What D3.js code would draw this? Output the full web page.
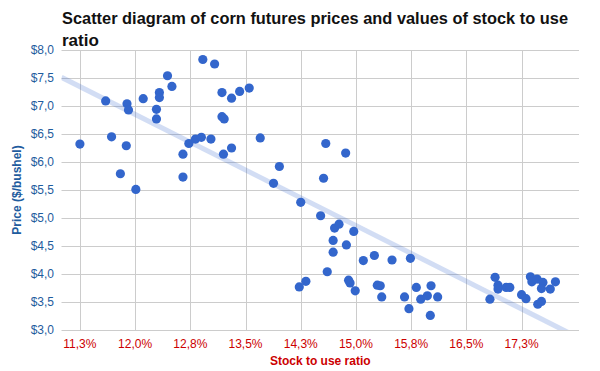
<!DOCTYPE html>
<html>
<head>
<meta charset="utf-8">
<script src="https://cdn.jsdelivr.net/npm/d3@7"></script>
<style>
  body { margin: 0; background: #fff; }
  svg text { font-family: "Liberation Sans", Arial, sans-serif; }
</style>
</head>
<body>
<script>
  // stock to use ratio (%) for each observation
  let stockRatio = [
    11.25, 11.60, 11.68, 11.80, 11.89, 11.91, 11.88, 12.01, 12.11, 12.29,
    12.29, 12.33, 12.33, 12.44, 12.50, 12.65, 12.65, 12.73, 12.82, 12.90,
    12.92, 13.03, 13.08, 13.18, 13.18, 13.21, 13.20, 13.31, 13.31, 13.42,
    13.55, 13.70, 13.96, 13.88, 14.59, 14.86, 14.56, 14.25, 14.52, 14.71,
    14.77, 14.97, 14.69, 14.87, 14.69, 14.61, 15.10, 15.25, 15.49, 15.74,
    14.23, 14.32, 14.90, 14.92, 14.99, 15.29, 15.33, 15.35, 15.66, 15.72,
    15.82, 15.88, 15.97, 16.02, 16.11, 16.01, 16.89, 16.93, 16.93, 17.04,
    17.09, 16.82, 17.25, 17.31, 17.37, 17.39, 17.46, 17.54, 17.52, 17.47,
    17.52, 17.64, 17.71
  ];
  // corn futures price ($/bushel), same order
  let price = [
    6.32, 7.09, 6.45, 5.79, 7.04, 6.93, 6.29, 5.51, 7.13, 6.94,
    6.77, 7.24, 7.15, 7.54, 7.35, 6.14, 5.73, 6.33, 6.41, 6.44,
    7.83, 6.41, 7.75, 7.24, 6.81, 6.77, 6.14, 7.14, 6.25, 7.26,
    7.32, 6.43, 5.92, 5.62, 6.33, 6.16, 5.71, 5.28, 5.04, 4.82,
    4.89, 4.76, 4.60, 4.52, 4.39, 4.04, 4.24, 4.33, 4.25, 4.28,
    3.77, 3.87, 3.89, 3.84, 3.70, 3.80, 3.79, 3.59, 3.59, 3.38,
    3.76, 3.55, 3.61, 3.79, 3.59, 3.26, 3.94, 3.80, 3.73, 3.76,
    3.76, 3.55, 3.63, 3.56, 3.95, 3.86, 3.91, 3.85, 3.74, 3.46,
    3.51, 3.73, 3.86
  ];
  let xTickValues = [11.25, 12.0, 12.75, 13.5, 14.25, 15.0, 15.75, 16.5, 17.25];
  let yTickValues = [3.0, 3.5, 4.0, 4.5, 5.0, 5.5, 6.0, 6.5, 7.0, 7.5, 8.0];
  let xDomain = [11.0, 18.03];
  let yDomain = [3.0, 8.0];

  let width = 600, height = 371;
  let plotL = 61.5, plotR = 579, plotT = 50, plotB = 330;

  let svg = d3.select("body").append("svg")
    .attr("width", width).attr("height", height);

  let x = d3.scaleLinear().domain(xDomain).range([plotL, plotR]);
  let y = d3.scaleLinear().domain(yDomain).range([plotB, plotT]);
  let comma = v => d3.format(".1f")(v).replace(".", ",");

  // gridlines
  svg.append("g").selectAll("line")
    .data(yTickValues).enter().append("line")
      .attr("x1", plotL).attr("x2", plotR)
      .attr("y1", d => Math.round(y(d)) + 0.5).attr("y2", d => Math.round(y(d)) + 0.5)
      .style("stroke", "#cccccc");
  svg.append("g").selectAll("line")
    .data(xTickValues).enter().append("line")
      .attr("y1", plotT).attr("y2", plotB)
      .attr("x1", d => Math.round(x(d)) + 0.5).attr("x2", d => Math.round(x(d)) + 0.5)
      .style("stroke", "#cccccc");

  // y tick labels
  svg.append("g").selectAll("text")
    .data(yTickValues).enter().append("text")
      .attr("x", 54).attr("y", d => y(d) + 4)
      .attr("text-anchor", "end")
      .style("font-size", "12px").style("fill", "#1f5c9e")
      .text(d => "$" + comma(d));

  // x tick labels
  svg.append("g").selectAll("text")
    .data(xTickValues).enter().append("text")
      .attr("x", d => x(d)).attr("y", 348)
      .attr("text-anchor", "middle")
      .style("font-size", "12px").style("fill", "#cc0000")
      .text(d => comma(d) + "%");

  // linear trendline (least squares)
  let mx = d3.mean(stockRatio), my = d3.mean(price);
  let sxy = d3.sum(stockRatio, (v, i) => (v - mx) * (price[i] - my));
  let sxx = d3.sum(stockRatio, v => (v - mx) * (v - mx));
  let slope = sxy / sxx, icpt = my - slope * mx;
  svg.append("clipPath").attr("id", "plot")
    .append("rect").attr("x", plotL).attr("y", plotT)
    .attr("width", plotR - plotL).attr("height", plotB - plotT);
  svg.append("line")
    .attr("clip-path", "url(#plot)")
    .attr("x1", x(xDomain[0])).attr("y1", y(slope * xDomain[0] + icpt))
    .attr("x2", x(xDomain[1])).attr("y2", y(slope * xDomain[1] + icpt))
    .style("stroke", "#3366cc").style("stroke-opacity", 0.22)
    .style("stroke-width", 5);

  // points
  svg.append("g").selectAll("circle")
    .data(stockRatio).enter().append("circle")
      .attr("cx", d => x(d))
      .attr("cy", (d, i) => y(price[i]))
      .attr("r", 4.6)
      .style("fill", "#3366cc");

  // title, two lines like the original
  let title = svg.append("text")
    .style("font-size", "17px").style("font-weight", "bold").style("fill", "#111");
  title.append("tspan").attr("x", 62).attr("y", 24)
    .attr("textLength", 506).attr("lengthAdjust", "spacingAndGlyphs")
    .text("Scatter diagram of corn futures prices and values of stock to use");
  title.append("tspan").attr("x", 62).attr("y", 46).text("ratio");

  // axis titles
  svg.append("text")
    .attr("x", (plotL + plotR) / 2).attr("y", 365)
    .attr("text-anchor", "middle")
    .style("font-size", "12px").style("font-weight", "bold").style("fill", "#cc0000")
    .text("Stock to use ratio");
  svg.append("text")
    .attr("transform", "translate(21," + (plotT + plotB) / 2 + ") rotate(-90)")
    .attr("text-anchor", "middle")
    .style("font-size", "12px").style("font-weight", "bold").style("fill", "#1f5c9e")
    .text("Price ($/bushel)");
</script>
</body>
</html>
